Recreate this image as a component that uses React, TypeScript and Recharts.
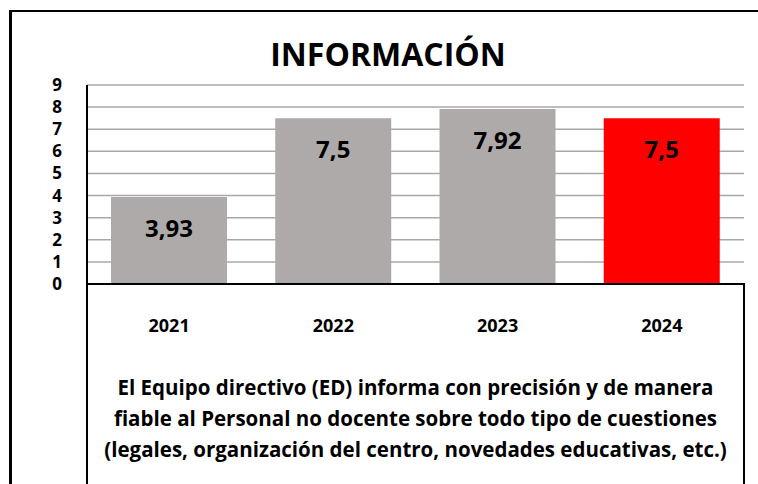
import React from 'react';
import { BarChart, Bar, XAxis, YAxis, CartesianGrid, Cell, LabelList } from 'recharts';

const categories = ['2021', '2022', '2023', '2024'];
const values = [3.93, 7.5, 7.92, 7.5];
const valueLabels = ['3,93', '7,5', '7,92', '7,5'];
const barColors = ['#AEAAAA', '#AEAAAA', '#AEAAAA', '#FF0000'];
const yTicks = [0, 1, 2, 3, 4, 5, 6, 7, 8, 9];
const chartTitle = 'INFORMACIÓN';
const descriptionLines = [
  'El Equipo directivo (ED) informa con precisión y de manera',
  'fiable al Personal no docente sobre todo tipo de cuestiones',
  '(legales, organización del centro, novedades educativas, etc.)',
];

const data = categories.map((c, i) => ({ year: c, value: values[i], label: valueLabels[i] }));

const W = 758;
const H = 484;
const FONT = '"Open Sans", "DejaVu Sans", sans-serif';
const M = { top: 85, right: 14, bottom: 0, left: 27 };
const Y_AXIS_W = 60;
const X_AXIS_H = 200;
const plotLeft = M.left + Y_AXIS_W;
const plotRight = W - M.right;
const plotBottom = H - M.bottom - X_AXIS_H;

const YTick = (props: any) => {
  const { y, payload } = props;
  return (
    <text x={57} y={y} dy={6} textAnchor="middle" fontFamily={FONT} fontWeight={700} fontSize={17} fill="#000">
      {payload.value}
    </text>
  );
};

const XTick = (props: any) => {
  const { x, payload } = props;
  return (
    <text x={x} y={332} textAnchor="middle" fontFamily={FONT} fontWeight={700} fontSize={18} fill="#000">
      {payload.value}
    </text>
  );
};

const ValueLabel = (props: any) => {
  const { x, y, width, value } = props;
  return (
    <text x={x + width / 2} y={y + 32} dy={8} textAnchor="middle" fontFamily={FONT} fontWeight={700} fontSize={24} fill="#000">
      {value}
    </text>
  );
};

export default function App() {
  return (
    <div style={{ position: 'absolute', left: 0, top: 0, width: W, height: H, background: '#fff' }}>
      <div
        style={{
          position: 'absolute',
          left: 9,
          top: 10,
          width: W - 9,
          height: H - 10,
          borderLeft: '3px solid #000',
          borderTop: '2px solid #000',
          boxSizing: 'border-box',
        }}
      />
      <div style={{ position: 'absolute', left: 0, top: 0 }}>
        <BarChart width={W} height={H} data={data} margin={M} barSize={116}>
          <CartesianGrid horizontal vertical={false} stroke="#A8A8A8" strokeWidth={1.5} />
          <XAxis
            dataKey="year"
            height={X_AXIS_H}
            axisLine={{ stroke: '#000', strokeWidth: 2 }}
            tickLine={false}
            tick={<XTick />}
            interval={0}
          />
          <YAxis
            width={Y_AXIS_W}
            domain={[0, 9]}
            ticks={yTicks}
            interval={0}
            axisLine={{ stroke: '#000', strokeWidth: 2 }}
            tickLine={false}
            tick={<YTick />}
          />
          <Bar dataKey="value" isAnimationActive={false}>
            {data.map((d, i) => (
              <Cell key={d.year} fill={barColors[i]} />
            ))}
            <LabelList dataKey="label" content={<ValueLabel />} />
          </Bar>
          <text x={388} y={66} textAnchor="middle" fontFamily={FONT} fontWeight={700} fontSize={32} fill="#000">
            {chartTitle}
          </text>
          <line x1={plotLeft} y1={plotBottom} x2={plotLeft} y2={H} stroke="#000" strokeWidth={2} />
          <line x1={plotRight} y1={plotBottom - 1} x2={plotRight} y2={H} stroke="#000" strokeWidth={2} />
          {descriptionLines.map((t, i) => (
            <text
              key={i}
              x={(plotLeft + plotRight) / 2}
              y={395 + i * 31}
              textAnchor="middle"
              fontFamily={FONT}
              fontWeight={700}
              fontSize={20.5}
              fill="#000"
            >
              {t}
            </text>
          ))}
        </BarChart>
      </div>
    </div>
  );
}
